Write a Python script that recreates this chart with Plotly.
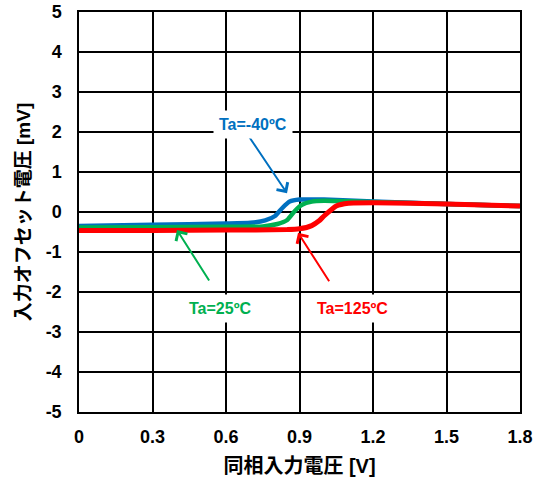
import plotly.graph_objects as go

# Data
x_m40 = [0, 0.3, 0.6, 0.7, 0.76, 0.8, 0.83, 0.86, 0.9, 1.0, 1.2, 1.5, 1.8]
y_m40 = [-0.35, -0.32, -0.29, -0.27, -0.21, -0.1, 0.1, 0.26, 0.31, 0.31, 0.26, 0.2, 0.15]

x_25 = [0, 0.3, 0.6, 0.75, 0.81, 0.85, 0.88, 0.91, 0.95, 1.0, 1.2, 1.5, 1.8]
y_25 = [-0.39, -0.38, -0.37, -0.36, -0.3, -0.2, 0.02, 0.18, 0.26, 0.28, 0.25, 0.2, 0.15]

x_125 = [0, 0.3, 0.6, 0.85, 0.9, 0.95, 0.98, 1.0, 1.05, 1.1, 1.2, 1.5, 1.8]
y_125 = [-0.46, -0.46, -0.45, -0.44, -0.42, -0.34, -0.22, -0.1, 0.15, 0.22, 0.23, 0.2, 0.15]

x_ticks = [0, 0.3, 0.6, 0.9, 1.2, 1.5, 1.8]
x_tick_labels = ["0", "0.3", "0.6", "0.9", "1.2", "1.5", "1.8"]
y_ticks = [5, 4, 3, 2, 1, 0, -1, -2, -3, -4, -5]
y_tick_labels = ["5", "4", "3", "2", "1", "0", "-1", "-2", "-3", "-4", "-5"]

labels = ["Ta=-40ºC", "Ta=25ºC", "Ta=125ºC"]
colors = ["#0070C0", "#00B050", "#FF0000"]

FONT = "Liberation Sans, Arial, Noto Sans CJK JP, sans-serif"

fig = go.Figure()
for xs, ys, c, w in [(x_m40, y_m40, colors[0], 4.5), (x_25, y_25, colors[1], 4.5), (x_125, y_125, colors[2], 5)]:
    fig.add_trace(go.Scatter(x=xs, y=ys, mode="lines",
                             line=dict(color=c, width=w, shape="spline", smoothing=0.5),
                             showlegend=False, hoverinfo="skip"))

# arrows: (head x, head y, tail x, tail y)
arrows = [(0.849, 0.47, 0.69, 1.92), (0.40, -0.45, 0.535, -1.75), (0.894, -0.52, 1.025, -1.77)]
text_pos = [(0.71, 2.2), (0.576, -2.4), (1.118, -2.4)]

for (hx, hy, tx, ty), c in zip(arrows, colors):
    fig.add_annotation(x=hx, y=hy, ax=tx, ay=ty, xref="x", yref="y", axref="x", ayref="y",
                       text="", showarrow=True, arrowhead=4, arrowsize=1.3, arrowwidth=2,
                       arrowcolor=c)
for (px, py), t, c in zip(text_pos, labels, colors):
    fig.add_annotation(x=px, y=py, xref="x", yref="y", text="<b>%s</b>" % t, showarrow=False,
                       font=dict(family=FONT, size=16, color=c), bgcolor="white",
                       borderpad=5)

fig.update_xaxes(range=[0, 1.8], tickvals=x_ticks, ticktext=x_tick_labels, automargin=False,
                 showgrid=True, gridcolor="black", gridwidth=1.5,
                 showline=True, linecolor="black", linewidth=1.5, mirror=True,
                 zeroline=False, ticks="", ticklabelstandoff=8,
                 tickfont=dict(family=FONT, size=18, color="black", weight="bold"),
                 title=dict(text="<b>同相入力電圧 [V]</b>", font=dict(family=FONT, size=20, color="black"),
                            standoff=13))
fig.update_yaxes(range=[-5, 5], tickvals=y_ticks, ticktext=y_tick_labels, automargin=False,
                 showgrid=True, gridcolor="black", gridwidth=1.5,
                 showline=True, linecolor="black", linewidth=1.5, mirror=True,
                 zeroline=False, ticks="", ticklabelstandoff=12,
                 tickfont=dict(family=FONT, size=18, color="black", weight="bold"),
                 title=dict(text="<b>入力オフセット電圧 [mV]</b>", font=dict(family=FONT, size=19, color="black"),
                            standoff=10))

fig.update_layout(width=536, height=489, margin=dict(l=79, r=16, t=12, b=77),
                  plot_bgcolor="white", paper_bgcolor="white")

# remove the default page margin so the figure sits at the window's top-left corner
fig.write_html("out.html", config={"displayModeBar": False},
               post_script="document.body.style.margin='0';document.body.style.overflow='hidden';")
